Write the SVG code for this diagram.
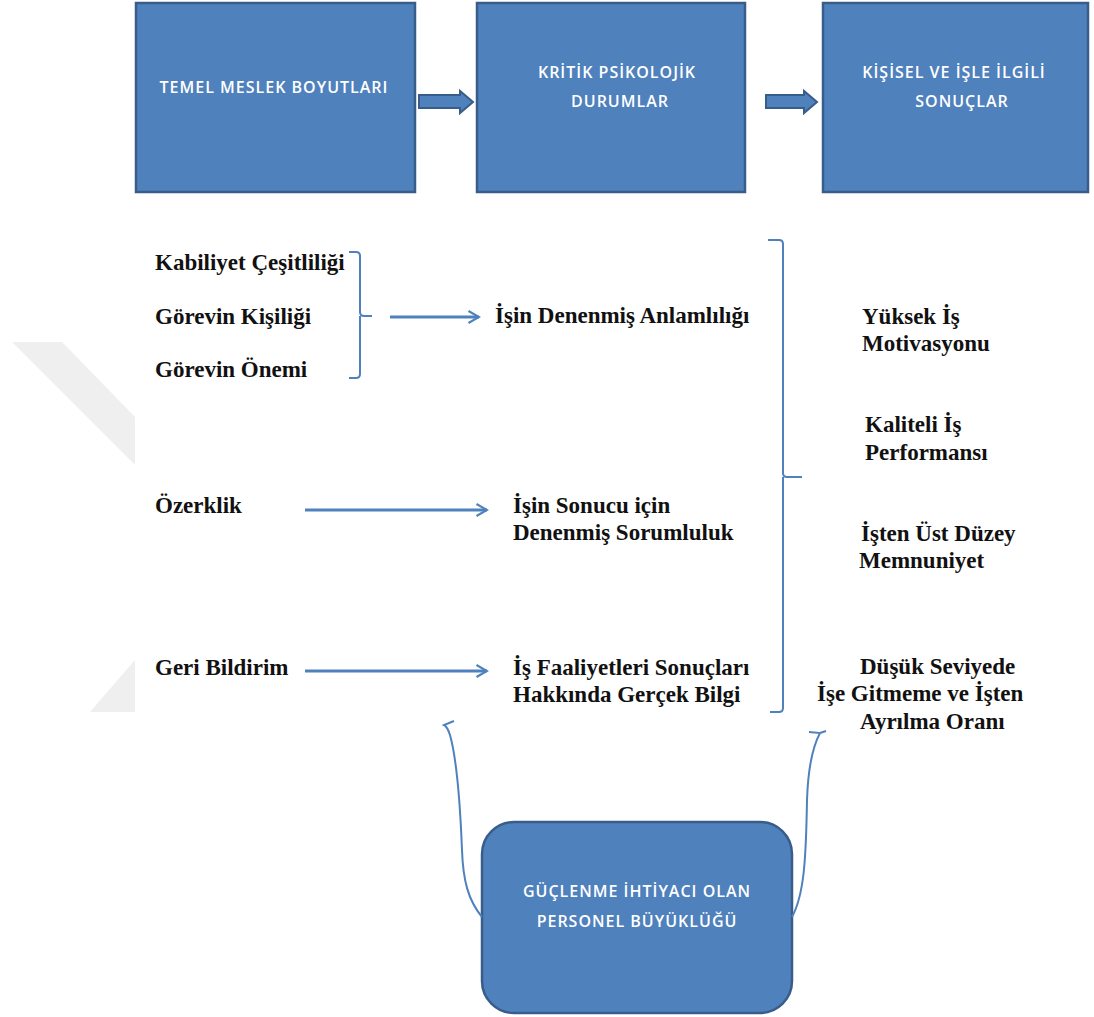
<svg xmlns="http://www.w3.org/2000/svg" width="1094" height="1017" viewBox="0 0 1094 1017">
  <style>
    .box { fill: #4F81BD; stroke: #385D8A; stroke-width: 2.5; }
    .boxtxt { font-family: "Open Sans", "Liberation Sans", sans-serif; font-size: 16px; font-weight: 600; fill: #ffffff; letter-spacing: 1px; text-anchor: middle; }
    .lbl { font-family: "Liberation Serif", "Times New Roman", serif; font-size: 23px; font-weight: bold; fill: #111111; }
    .line { fill: none; stroke: #4F81BD; stroke-width: 2; }
    .arr { fill: none; stroke: #4F81BD; stroke-width: 3; }
    .blk { fill: #4F81BD; stroke: #385D8A; stroke-width: 2; }
    .mark { fill: #efefef; }
  </style>
  <defs>
    <marker id="chev" viewBox="0 0 10 10" refX="9" refY="5" markerWidth="5" markerHeight="5.5" orient="auto" markerUnits="strokeWidth">
      <path d="M2,1 L9,5 L2,9" fill="none" stroke="#4F81BD" stroke-width="1.4"/>
    </marker>
  </defs>

  <rect width="1094" height="1017" fill="#ffffff"/>

  <!-- faint background watermark -->
  <polygon class="mark" points="12,342 62,342 135,417 135,465"/>
  <polygon class="mark" points="135,660 135,712 90,712"/>

  <!-- top row boxes -->
  <g id="node-temel">
    <rect class="box" x="136" y="3" width="279" height="189"/>
    <text class="boxtxt" x="274" y="93">TEMEL MESLEK BOYUTLARI</text>
  </g>
  <g id="node-kritik">
    <rect class="box" x="477" y="3" width="268" height="189"/>
    <text class="boxtxt" x="617" y="78">KRİTİK PSİKOLOJİK</text>
    <text class="boxtxt" x="620" y="107">DURUMLAR</text>
  </g>
  <g id="node-sonuclar">
    <rect class="box" x="823" y="3" width="265" height="189"/>
    <text class="boxtxt" x="954" y="78">KİŞİSEL VE İŞLE İLGİLİ</text>
    <text class="boxtxt" x="962" y="107">SONUÇLAR</text>
  </g>

  <!-- bottom box -->
  <g id="node-personel">
    <rect class="box" x="482" y="822" width="310" height="191" rx="32" ry="32"/>
    <text class="boxtxt" x="637" y="897">GÜÇLENME İHTİYACI OLAN</text>
    <text class="boxtxt" x="637" y="927">PERSONEL BÜYÜKLÜĞÜ</text>
  </g>

  <!-- job dimensions -->
  <g id="node-boyutlar">
    <text class="lbl" x="155" y="270">Kabiliyet Çeşitliliği</text>
    <text class="lbl" x="155" y="324">Görevin Kişiliği</text>
    <text class="lbl" x="155" y="377">Görevin Önemi</text>
  </g>
  <g id="node-ozerklik">
    <text class="lbl" x="155" y="513">Özerklik</text>
  </g>
  <g id="node-geri">
    <text class="lbl" x="155" y="675">Geri Bildirim</text>
  </g>

  <!-- psychological states -->
  <g id="node-anlamlilik">
    <text class="lbl" x="495" y="323">İşin Denenmiş Anlamlılığı</text>
  </g>
  <g id="node-sorumluluk">
    <text class="lbl" x="513" y="513">İşin Sonucu için</text>
    <text class="lbl" x="513" y="540">Denenmiş Sorumluluk</text>
  </g>
  <g id="node-bilgi">
    <text class="lbl" x="513" y="675">İş Faaliyetleri Sonuçları</text>
    <text class="lbl" x="513" y="702">Hakkında Gerçek Bilgi</text>
  </g>

  <!-- outcomes -->
  <g id="node-motivasyon">
    <text class="lbl" x="862" y="324">Yüksek İş</text>
    <text class="lbl" x="862" y="351">Motivasyonu</text>
  </g>
  <g id="node-performans">
    <text class="lbl" x="865" y="432">Kaliteli İş</text>
    <text class="lbl" x="865" y="460">Performansı</text>
  </g>
  <g id="node-memnuniyet">
    <text class="lbl" x="861" y="541">İşten Üst Düzey</text>
    <text class="lbl" x="859" y="568">Memnuniyet</text>
  </g>
  <g id="node-devamsizlik">
    <text class="lbl" x="860" y="674">Düşük Seviyede</text>
    <text class="lbl" x="817" y="701">İşe Gitmeme ve İşten</text>
    <text class="lbl" x="860" y="729">Ayrılma Oranı</text>
  </g>

  <!-- connectors -->
  <g id="connectors">
    <!-- block arrows between top boxes -->
    <path class="blk" d="M419,95 L460,95 L460,91 L473,102 L460,113 L460,108 L419,108 Z"/>
    <path class="blk" d="M766,95 L804,95 L804,91 L817,102 L804,113 L804,108 L766,108 Z"/>

    <!-- bracket grouping the three first dimensions -->
    <path class="line" d="M349,252 L356,252 Q360,252 360,256 L360,312 Q360,316 364,316 L372,316 M360,316 L360,374 Q360,378 356,378 L349,378"/>

    <!-- large bracket grouping the outcomes -->
    <path class="line" d="M768,240 L779,240 Q783,240 783,244 L783,473 Q783,477 787,477 L802,477 M783,477 L783,708 Q783,712 779,712 L770,712"/>

    <!-- dimension to state arrows -->
    <line class="arr" x1="390" y1="317" x2="479" y2="317" marker-end="url(#chev)"/>
    <line class="arr" x1="305" y1="510" x2="487" y2="510" marker-end="url(#chev)"/>
    <line class="arr" x1="305" y1="671" x2="487" y2="671" marker-end="url(#chev)"/>

    <!-- feedback curves from the bottom box -->
    <path class="line" d="M482,917 C468,900 463,880 462,850 C460,800 457,760 450,735 C448,729 446,726 444,725 L454,721"/>
    <path class="line" d="M792,917 C804,895 806,860 807,800 C808,770 812,748 820,733 L809,732 M820,733 L826,731"/>
  </g>
</svg>
